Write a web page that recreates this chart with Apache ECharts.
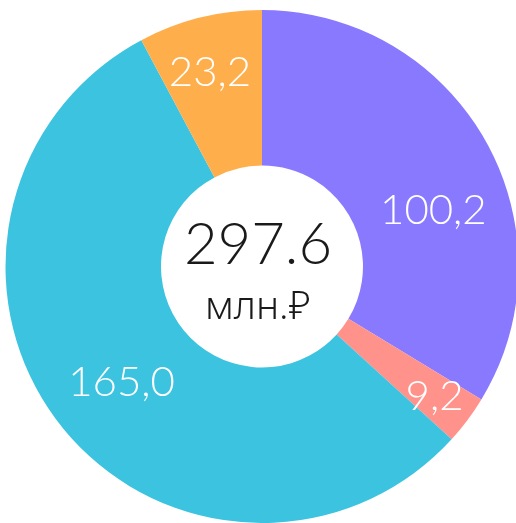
<!DOCTYPE html>
<html>
<head>
<meta charset="utf-8">
<script src="https://cdn.jsdelivr.net/npm/echarts@6/dist/echarts.min.js"></script>
<style>
  html, body { margin: 0; padding: 0; background: #fff; }
  #main { width: 516px; height: 523px; }
</style>
</head>
<body>
<div id="main"></div>
<script>
// segments, clockwise from 12 o'clock
var names = ['A', 'B', 'C', 'D'];
var values = [100.2, 9.2, 165.0, 23.2];
var colors = ['#8979FF', '#FF928A', '#3CC3DF', '#FFAE4C'];
var unit = 'млн.₽';

// nudge labels from the ring middle to where they sit in the picture
var labelShift = [[13, 33], [27, 21], [3, 4], [-8, -18]];

var total = values.reduce(function (a, b) { return a + b; }, 0);

var chart = echarts.init(document.getElementById('main'), null, { renderer: 'canvas' });

var option = {
  backgroundColor: '#ffffff',
  animation: false,
  color: colors,
  graphic: [
    {
      type: 'text',
      left: 'center',
      top: 216,
      style: {
        text: total.toFixed(1),
        fill: '#1a1a1a',
        font: '300 58px Lato, "Open Sans", sans-serif',
        textAlign: 'center'
      }
    },
    {
      type: 'text',
      left: 'center',
      top: 288,
      style: {
        text: unit,
        fill: '#1a1a1a',
        font: '300 39px "Noto Sans", "DejaVu Sans", sans-serif',
        textAlign: 'center'
      }
    }
  ],
  series: [{
    type: 'pie',
    center: [262, 266.5],
    radius: [101, 256.5],
    startAngle: 90,
    clockwise: true,
    silent: true,
    emphasis: { disabled: true },
    itemStyle: { borderWidth: 0 },
    label: {
      show: true,
      position: 'inside',
      color: '#ffffff',
      fontFamily: 'Lato, "Open Sans", sans-serif',
      fontWeight: 300,
      fontSize: 42,
      formatter: function (p) {
        return p.value.toFixed(1).replace('.', ',');
      }
    },
    labelLine: { show: false },
    labelLayout: function (params) {
      var s = labelShift[params.dataIndex];
      return { dx: s[0], dy: s[1] };
    },
    data: values.map(function (v, i) {
      return { name: names[i], value: v };
    })
  }]
};

chart.setOption(option);
</script>
</body>
</html>
